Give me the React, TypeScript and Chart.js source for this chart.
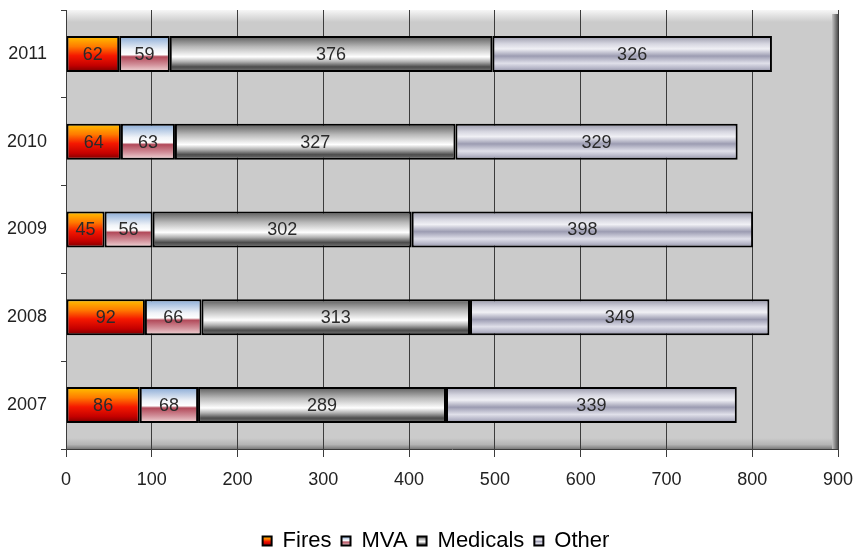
import React, { useEffect, useRef } from "react";
import { Chart, registerables } from "chart.js";

Chart.register(...registerables);

const CATEGORIES = ["2011", "2010", "2009", "2008", "2007"];
const FIRES = [62, 64, 45, 92, 86];
const MVA = [59, 63, 56, 66, 68];
const MEDICALS = [376, 327, 302, 313, 289];
const OTHER = [326, 329, 398, 349, 339];
const X_MIN = 0;
const X_MAX = 900;
const X_STEP = 100;

const FONT = "'Liberation Sans', Arial, sans-serif";
const BAR_PCT = 0.41;

type Stop = [number, string];
const FIRE_STOPS: Stop[] = [[0, "#ffc400"], [0.3, "#ff7a00"], [0.55, "#f51800"], [0.82, "#c40000"], [1, "#760000"]];
const MVA_STOPS: Stop[] = [[0, "#86a8d4"], [0.38, "#f0f3f8"], [0.52, "#ffffff"], [0.58, "#b24a5a"], [0.8, "#d2909a"], [1, "#f2dada"]];
const MED_STOPS: Stop[] = [[0, "#585858"], [0.3, "#b8b8b8"], [0.58, "#ffffff"], [0.72, "#b0b0b0"], [0.86, "#4c4c4c"], [1, "#7a7a7a"]];
const OTHER_STOPS: Stop[] = [[0, "#9494a6"], [0.22, "#d6d6e0"], [0.36, "#f0f0f5"], [0.56, "#9c9cb2"], [0.76, "#e0e0ea"], [0.9, "#b4b4c6"], [1, "#88889a"]];

function gradFill(stops: Stop[]) {
  return (ctx: any) => {
    const chart = ctx.chart;
    const y = chart.scales && chart.scales.y;
    if (!y || !chart.chartArea || ctx.dataIndex === undefined) return stops[Math.floor(stops.length / 2)][1];
    const c = y.getPixelForValue(ctx.dataIndex);
    const half = (y.height / CATEGORIES.length) * BAR_PCT / 2;
    const g = chart.ctx.createLinearGradient(0, c - half, 0, c + half);
    stops.forEach(([o, col]) => g.addColorStop(o, col));
    return g;
  };
}

const wallPlugin = {
  id: "wall",
  beforeDraw(chart: any) {
    const { ctx, chartArea: a } = chart;
    ctx.save();
    ctx.fillStyle = "#cbcbcb";
    ctx.fillRect(a.left, a.top, a.right - a.left, a.bottom - a.top);
    let g = ctx.createLinearGradient(0, a.top, 0, a.top + 12);
    g.addColorStop(0, "#f6f6f6");
    g.addColorStop(1, "#cbcbcb");
    ctx.fillStyle = g;
    ctx.fillRect(a.left, a.top, a.right - a.left, 12);
    g = ctx.createLinearGradient(0, a.bottom - 11, 0, a.bottom);
    g.addColorStop(0, "#cbcbcb");
    g.addColorStop(0.6, "#b4b4b4");
    g.addColorStop(1, "#7a7a7a");
    ctx.fillStyle = g;
    ctx.fillRect(a.left, a.bottom - 11, a.right - a.left, 11);
    g = ctx.createLinearGradient(a.right - 6, 0, a.right, 0);
    g.addColorStop(0, "#c4c4c4");
    g.addColorStop(1, "#505050");
    ctx.fillStyle = g;
    ctx.fillRect(a.right - 6, a.top + 4, 6, a.bottom - a.top - 4);
    ctx.restore();
  },
  afterUpdate(chart: any) {
    const lg = chart.legend;
    if (!lg || !lg.legendItems) return;
    lg.left += 34;
    const stops = [FIRE_STOPS, MVA_STOPS, MED_STOPS, OTHER_STOPS];
    const center = lg.top + 10 + 11;
    lg.legendItems.forEach((it: any, i: number) => {
      const g = chart.ctx.createLinearGradient(0, center - 4.5, 0, center + 4.5);
      stops[i].forEach(([o, col]) => g.addColorStop(o, col));
      it.fillStyle = g;
    });
  },
  afterDatasetsDraw(chart: any) {
    const { ctx } = chart;
    ctx.save();
    ctx.font = `18px ${FONT}`;
    ctx.fillStyle = "#2a2a2a";
    ctx.textAlign = "center";
    ctx.textBaseline = "middle";
    chart.data.datasets.forEach((ds: any, di: number) => {
      const meta = chart.getDatasetMeta(di);
      meta.data.forEach((bar: any, i: number) => {
        const x = (bar.x + bar.base) / 2;
        ctx.fillText(String(ds.data[i]), x, bar.y + 1);
      });
    });
    ctx.restore();
  },
};

export default function App() {
  const ref = useRef<HTMLCanvasElement | null>(null);
  useEffect(() => {
    document.body.style.margin = "0";
    const mk = (label: string, data: number[], stops: Stop[]) => ({
      label,
      data,
      backgroundColor: gradFill(stops),
      borderColor: "#000000",
      borderWidth: 2,
      borderSkipped: false as const,
      categoryPercentage: 1,
      barPercentage: BAR_PCT,
    });
    const chart = new Chart(ref.current as HTMLCanvasElement, {
      type: "bar",
      data: {
        labels: CATEGORIES,
        datasets: [
          mk("Fires", FIRES, FIRE_STOPS),
          mk("MVA", MVA, MVA_STOPS),
          mk("Medicals", MEDICALS, MED_STOPS),
          mk("Other", OTHER, OTHER_STOPS),
        ],
      },
      options: {
        indexAxis: "y",
        responsive: false,
        animation: false,
        devicePixelRatio: 1,
        layout: { padding: { top: 10, right: 18, left: 0, bottom: -6 } },
        font: { family: FONT },
        scales: {
          x: {
            stacked: true,
            min: X_MIN,
            max: X_MAX,
            ticks: { stepSize: X_STEP, color: "#222", padding: 12, font: { family: FONT, size: 18 } },
            grid: { color: "#3c3c3c", lineWidth: 1, tickLength: 8, drawTicks: true },
            border: { color: "#3c3c3c", width: 1 },
            afterFit: (s: any) => {
              s.height = 71;
              s.paddingLeft = 0;
              s.paddingRight = 0;
            },
          },
          y: {
            stacked: true,
            ticks: { color: "#222", padding: 14, font: { family: FONT, size: 18 } },
            grid: { drawOnChartArea: false, offset: true, tickLength: 5, color: "#3c3c3c" },
            border: { color: "#3c3c3c", width: 1 },
            afterFit: (s: any) => {
              s.width = 66;
              s.paddingTop = 0;
              s.paddingBottom = 0;
            },
          },
        },
        plugins: {
          tooltip: { enabled: false },
          legend: {
            position: "bottom",
            labels: {
              boxWidth: 9,
              boxHeight: 9,
              padding: 10,
              color: "#000",
              font: { family: FONT, size: 22 },
            },
          },
        },
      } as any,
      plugins: [wallPlugin],
    });
    return () => chart.destroy();
  }, []);
  return (
    <div style={{ width: 856, height: 556 }}>
      <canvas ref={ref} width={856} height={556} style={{ display: "block" }} />
    </div>
  );
}
